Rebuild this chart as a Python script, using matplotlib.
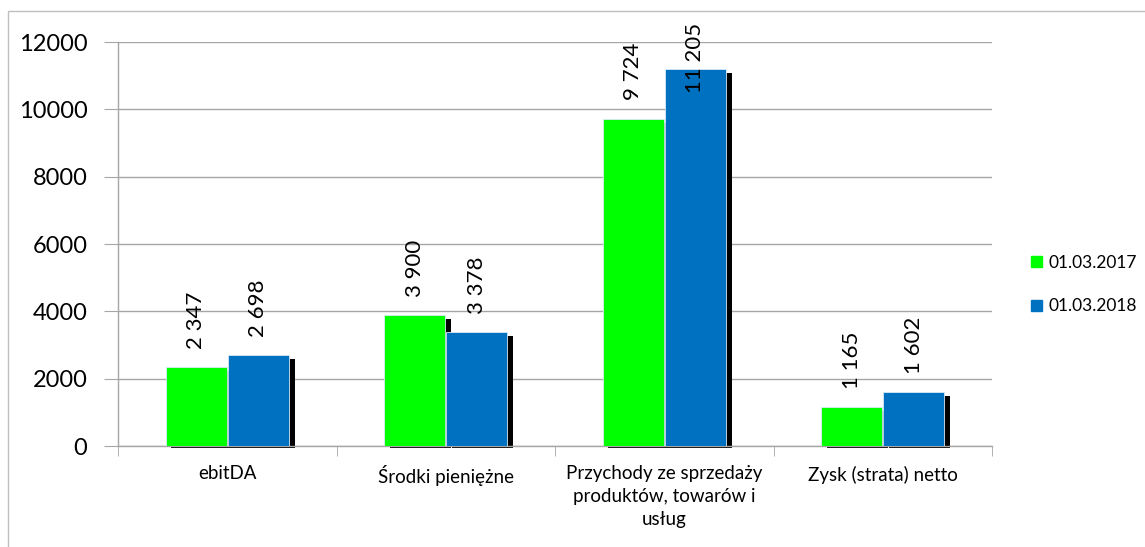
import numpy as np
import matplotlib.pyplot as plt
from matplotlib.patches import Rectangle

plt.rcParams['font.family'] = ['Lato', 'DejaVu Sans']

categories = ['ebitDA', 'Środki pieniężne',
              'Przychody ze sprzedaży\nproduktów, towarów i\nusług',
              'Zysk (strata) netto']
series_names = ['01.03.2017', '01.03.2018']
values_2017 = [2347, 3900, 9724, 1165]
values_2018 = [2698, 3378, 11205, 1602]
value_labels_2017 = ['2 347', '3 900', '9 724', '1 165']
value_labels_2018 = ['2 698', '3 378', '11 205', '1 602']
y_ticks = [0, 2000, 4000, 6000, 8000, 10000, 12000]

GREEN = '#00FF00'
BLUE = '#0070C0'
GRID = '#A6A6A6'


def main():
    fig = plt.figure(figsize=(11.45, 5.47), dpi=100)
    ax = fig.add_axes([0.1031, 0.1846, 0.7633, 0.7386])

    # chart frame, only top and left edges end up visible
    fig.patches.append(Rectangle((8 / 1145, -0.2), 1.2, 0.2 + (547 - 11) / 547,
                                 transform=fig.transFigure, fill=False,
                                 edgecolor='#BFBFBF', linewidth=1.0))

    x = np.arange(len(categories))
    w = 0.28
    off = 0.142
    sdx = 0.026   # shadow shift right
    sdy = 60      # shadow shift down

    for xs, vals, col in [(x - off, values_2017, GREEN), (x + off, values_2018, BLUE)]:
        ax.bar(xs + sdx, np.array(vals) - 60, w, bottom=-sdy, color='black',
               zorder=2, clip_on=False)
        ax.bar(xs, vals, w, color=col, edgecolor='#D9EAF7', linewidth=0.6, zorder=3)

    for xs, vals, labs in [(x - off, values_2017, value_labels_2017),
                           (x + off, values_2018, value_labels_2018)]:
        for xi, v, lab in zip(xs, vals, labs):
            ypos = min(v + 540, 10500)
            ax.text(xi, ypos, lab, rotation=90, ha='center', va='bottom',
                    fontsize=16, zorder=5)

    ax.set_xlim(-0.5, len(categories) - 0.5)
    ax.set_ylim(0, 12000)
    ax.set_yticks(y_ticks)
    ax.set_yticklabels([str(t) for t in y_ticks], fontsize=17)
    ax.yaxis.grid(True, color=GRID, linewidth=1.0)
    ax.set_axisbelow(True)

    ax.set_xticks(x)
    ax.set_xticklabels(categories, fontsize=13.5, linespacing=1.4)
    ax.set_xticks(np.arange(-0.5, len(categories)), minor=True)
    ax.tick_params(axis='x', which='major', length=0, pad=14)
    ax.tick_params(axis='x', which='minor', length=7, color=GRID, direction='out')
    ax.tick_params(axis='y', length=10, color=GRID, pad=12)

    for s in ['top', 'right']:
        ax.spines[s].set_visible(False)
    for s in ['left', 'bottom']:
        ax.spines[s].set_color(GRID)
        ax.spines[s].set_linewidth(1.0)

    handles = [Rectangle((0, 0), 1, 1, color=GREEN), Rectangle((0, 0), 1, 1, color=BLUE)]
    fig.legend(handles, series_names, loc='center left',
               bbox_to_anchor=(0.887, 0.48), frameon=False, fontsize=12.5,
               handlelength=0.6, handleheight=0.6, handletextpad=0.4,
               labelspacing=1.6)

    fig.savefig('out.png', dpi=100)


if __name__ == '__main__':
    main()
